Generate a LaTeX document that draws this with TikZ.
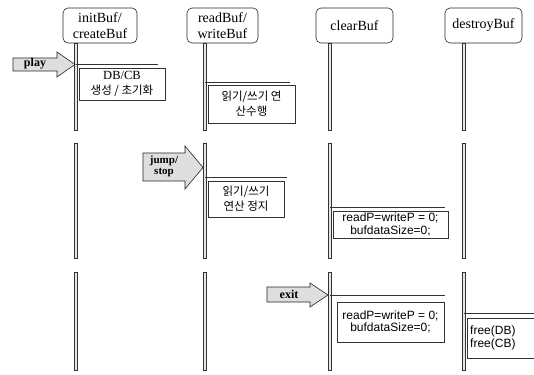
\documentclass[tikz,border=0pt]{standalone}
\usepackage{fontspec}
\setmainfont{Liberation Serif}
\setsansfont{Liberation Sans}
\newfontfamily\kr{Noto Sans CJK KR}
\begin{document}
\begin{tikzpicture}[x=1pt,y=-1pt,
  hdr/.style={draw=black!85, line width=0.6pt, rounded corners=5pt, align=center,
    inner sep=1pt, font=\fontsize{14}{15.5}\selectfont},
  lifebar/.style={draw=black!80, line width=0.45pt, fill=black!10},
  msg/.style={draw=black!80, line width=0.6pt},
  msgbox/.style={draw=black!80, line width=0.6pt, align=center, inner sep=1pt},
  krtxt/.style={font=\kr\fontsize{11.5}{15}\selectfont},
  codetxt/.style={font=\sffamily\fontsize{12}{12.5}\selectfont},
  blockarrow/.style={draw=black!85, line width=0.6pt, fill=black!13},
  arrtxt/.style={font=\bfseries\fontsize{12}{11}\selectfont, align=center, inner sep=0pt}
]
\clip (0,0) rectangle (534,374);
\fill[white] (0,0) rectangle (534,374);

% headers
\node[hdr, minimum width=74pt, minimum height=35pt] (h1) at (100,25.5) {initBuf/\\createBuf};
\node[hdr, minimum width=71pt, minimum height=35pt] (h2) at (222.5,25.5) {readBuf/\\writeBuf};
\node[hdr, minimum width=77pt, minimum height=35pt] (h3) at (354.5,25.5) {clearBuf};
\node[hdr, minimum width=77pt, minimum height=35pt] (h4) at (483.5,25.5) {destroyBuf};

% lifelines
\foreach \lx in {76,205,330,464} {
  \draw[lifebar] (\lx-1.6,43) rectangle (\lx+1.6,130);
  \draw[lifebar] (\lx-1.6,143) rectangle (\lx+1.6,258);
  \draw[lifebar] (\lx-1.6,272) rectangle (\lx+1.6,370);
}

% play
\draw[blockarrow] (13,58) -- (57,58) -- (57,52) -- (75,64.5) -- (57,77) -- (57,71) -- (13,71) -- cycle;
\node[arrtxt] (play) at (35,64) {play};
\coordinate (m1) at (76,64);
\coordinate (m1e) at (158,64);
\draw[msg] (m1) -- (m1e);
\node[msgbox, minimum width=86pt, minimum height=32pt, font=\fontsize{12.5}{14.5}\selectfont] (b1) at (122,84)
  {DB/CB\\{\kr\fontsize{11.5}{14.5}\selectfont 생성 / 초기화}};

% row 1, readBuf
\coordinate (m2) at (205,82);
\coordinate (m2e) at (290,82);
\draw[msg] (m2) -- (m2e);
\node[msgbox, krtxt, minimum width=87pt, minimum height=38pt] (b2) at (251.5,104)
  {읽기/쓰기 연\\산수행};

% jump/stop
\draw[blockarrow] (143,153) -- (185,153) -- (185,146) -- (203,167.5) -- (185,189) -- (185,181) -- (143,181) -- cycle;
\node[arrtxt, font=\bfseries\fontsize{11}{11}\selectfont] (jump) at (164,166.5) {jump/\\stop};
\coordinate (m3) at (205,177);
\coordinate (m3e) at (287,177);
\draw[msg] (m3) -- (m3e);
\node[msgbox, krtxt, minimum width=76pt, minimum height=36pt] (b3) at (246,199)
  {읽기/쓰기\\연산 정지};

% clearBuf row 2
\coordinate (m4) at (330,207);
\coordinate (m4e) at (445,207);
\draw[msg] (m4) -- (m4e);
\node[msgbox, codetxt, minimum width=115pt, minimum height=27pt, inner sep=0pt] (b4) at (390.5,224.5)
  {readP=writeP = 0;\\bufdataSize=0;};

% exit
\draw[blockarrow] (267,287) -- (310,287) -- (310,283) -- (328,295) -- (310,307) -- (310,302) -- (267,302) -- cycle;
\node[arrtxt] (exit) at (289,294) {exit};
\coordinate (m5) at (330,295);
\coordinate (m5e) at (445,295);
\draw[msg] (m5) -- (m5e);
\node[msgbox, codetxt, minimum width=107pt, minimum height=40pt] (b5) at (390.5,322)
  {readP=writeP = 0;\\bufdataSize=0;};

% destroyBuf row 3
\coordinate (m6) at (464,313);
\coordinate (m6e) at (534,313);
\draw[msg] (m6) -- (m6e);
\node[msgbox, minimum width=80pt, minimum height=40pt, anchor=west] (b6) at (467,338) {};
\node[codetxt, align=left, inner sep=0pt, anchor=west] (t6) at (470,338) {free(DB)\\free(CB)};
\end{tikzpicture}
\end{document}
